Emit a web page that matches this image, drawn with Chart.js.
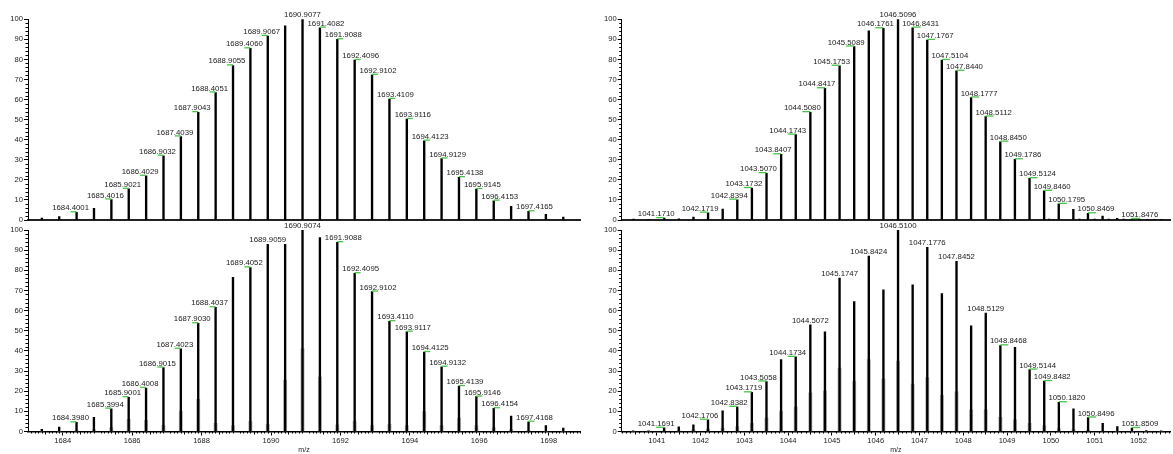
<!DOCTYPE html>
<html>
<head>
<meta charset="utf-8">
<title>Isotope envelopes</title>
<script src="https://cdn.jsdelivr.net/npm/chart.js@4/dist/chart.umd.min.js"></script>
<style>
  html, body { margin: 0; padding: 0; background: #fff; }
  #wrap { position: relative; width: 1173px; height: 454px; overflow: hidden; background: #fff; }
  canvas { position: absolute; }
</style>
</head>
<body>
<div id="wrap">
  <canvas id="tl" width="585" height="226" style="left:0;top:0"></canvas>
  <canvas id="bl" width="585" height="249" style="left:0;top:205px"></canvas>
  <canvas id="tr" width="583" height="226" style="left:590px;top:0"></canvas>
  <canvas id="br" width="583" height="249" style="left:590px;top:205px"></canvas>
</div>
<script>
// ---- shared tick values ----
const intensityTicks = [0, 10, 20, 30, 40, 50, 60, 70, 80, 90, 100];
const leftMzTicks = [1684, 1686, 1688, 1690, 1692, 1694, 1696, 1698];
const rightMzTicks = [1041, 1042, 1043, 1044, 1045, 1046, 1047, 1048, 1049, 1050, 1051, 1052];

// ---- upper left spectrum (z = 2) ----
const tlMz = [1683.3990, 1683.8995, 1684.4001, 1684.9008, 1685.4016, 1685.9021, 1686.4029, 1686.9032,
  1687.4039, 1687.9043, 1688.4051, 1688.9055, 1689.4060, 1689.9067, 1690.4072, 1690.9077, 1691.4082,
  1691.9088, 1692.4096, 1692.9102, 1693.4109, 1693.9116, 1694.4123, 1694.9129, 1695.4138, 1695.9145,
  1696.4153, 1696.9159, 1697.4165, 1697.9171, 1698.4178];
const tlInt = [1.0, 1.7, 3.8, 5.8, 10.2, 15.5, 22.0, 32.0, 41.6, 53.7, 63.5, 77.0, 85.5, 91.7, 96.7, 100,
  95.8, 90.0, 79.7, 72.3, 60.3, 50.3, 39.5, 30.6, 21.3, 15.4, 9.6, 6.8, 4.3, 2.8, 1.5];
const tlFlagged = [1684.4001, 1685.4016, 1685.9021, 1686.4029, 1686.9032, 1687.4039, 1687.9043, 1688.4051,
  1688.9055, 1689.4060, 1689.9067, 1691.4082, 1691.9088, 1692.4096, 1692.9102, 1693.4109, 1693.9116,
  1694.4123, 1694.9129, 1695.4138, 1695.9145, 1696.4153, 1697.4165];
const tlPlain = [1690.9077];

// ---- lower left spectrum (z = 2) ----
const blMz = [1683.3975, 1683.8978, 1684.3980, 1684.8987, 1685.3994, 1685.9001, 1686.4008, 1686.9015,
  1687.4023, 1687.9030, 1688.4037, 1688.9044, 1689.4052, 1689.9059, 1690.4066, 1690.9074, 1691.4081,
  1691.9088, 1692.4095, 1692.9102, 1693.4110, 1693.9117, 1694.4125, 1694.9132, 1695.4139, 1695.9146,
  1696.4154, 1696.9161, 1697.4168, 1697.9175, 1698.4182];
const blInt = [1.1, 2.2, 4.5, 7.0, 11.3, 17.0, 21.6, 31.7, 41.0, 53.7, 61.6, 76.5, 81.4, 92.9, 92.9, 100,
  96.2, 93.9, 78.5, 69.4, 54.7, 49.5, 39.4, 32.1, 22.5, 17.3, 11.5, 7.7, 4.8, 3.0, 1.7];
const blOverlay = [0, 0, 0.5, 1.0, 2.0, 6.0, 5.5, 3.0, 10.0, 16.0, 4.0, 3.0, 5.0, 3.5, 25.5, 41.0,
  27.0, 3.3, 5.0, 3.0, 3.6, 3.0, 9.9, 3.0, 6.6, 3.0, 2.0, 1.0, 0.5, 0, 0];
const blFlagged = [1684.3980, 1685.3994, 1685.9001, 1686.4008, 1686.9015, 1687.4023, 1687.9030, 1688.4037,
  1689.4052, 1691.9088, 1692.4095, 1692.9102, 1693.4110, 1693.9117, 1694.4125, 1694.9132, 1695.4139,
  1695.9146, 1696.4154, 1697.4168];
const blPlain = [1689.9059, 1690.9074];

// ---- upper right spectrum (z = 3) ----
const trMz = [1040.4700, 1040.8100, 1041.1710, 1041.5050, 1041.8390, 1042.1719, 1042.5060, 1042.8394,
  1043.1732, 1043.5070, 1043.8407, 1044.1743, 1044.5080, 1044.8417, 1045.1753, 1045.5089, 1045.8425,
  1046.1761, 1046.5096, 1046.8431, 1047.1767, 1047.5104, 1047.8440, 1048.1777, 1048.5112, 1048.8450,
  1049.1786, 1049.5124, 1049.8460, 1049.9600, 1050.0600, 1050.1795, 1050.5130, 1050.6500, 1050.8469,
  1051.0000, 1051.1805, 1051.3200, 1051.5140, 1051.6600, 1051.8476, 1052.0200, 1052.2000, 1052.3600,
  1052.5200];
const trInt = [0.4, 0.3, 0.9, 0.6, 1.5, 3.6, 5.5, 10.1, 15.9, 23.3, 32.7, 42.5, 53.7, 65.6, 76.8, 86.4,
  94.2, 95.5, 100, 95.8, 89.7, 79.7, 74.3, 61.0, 51.5, 39.0, 30.2, 20.8, 14.5, 0.4, 0.3, 8.0, 5.3, 0.4,
  3.3, 0.5, 2.0, 0.4, 0.8, 0.4, 0.5, 0.4, 0.3, 0.3, 0.2];
const trFlagged = [1041.1710, 1042.1719, 1042.8394, 1043.1732, 1043.5070, 1043.8407, 1044.1743, 1044.5080,
  1044.8417, 1045.1753, 1045.5089, 1046.1761, 1046.8431, 1047.1767, 1047.5104, 1047.8440, 1048.1777,
  1048.5112, 1048.8450, 1049.1786, 1049.5124, 1049.8460, 1050.1795, 1050.8469, 1051.8476];
const trPlain = [1046.5096];

// ---- lower right spectrum (z = 3) ----
const brMz = [1040.4600, 1040.8100, 1041.1691, 1041.5030, 1041.8368, 1042.1706, 1042.5044, 1042.8382,
  1043.1719, 1043.5058, 1043.8396, 1044.1734, 1044.5072, 1044.8410, 1045.1747, 1045.5086, 1045.8424,
  1046.1762, 1046.5100, 1046.8438, 1047.1776, 1047.5114, 1047.8452, 1048.1790, 1048.5129, 1048.8468,
  1049.1806, 1049.5144, 1049.8482, 1050.1820, 1050.5158, 1050.8496, 1051.1834, 1051.5172, 1051.8509,
  1052.1800, 1052.5200];
const brInt = [0.3, 0.3, 1.8, 2.3, 3.3, 5.8, 10.2, 12.2, 19.4, 24.8, 35.7, 37.0, 53.0, 49.5, 76.2, 64.5,
  87.0, 70.3, 100, 72.8, 91.4, 68.4, 84.5, 52.5, 58.8, 42.7, 41.8, 30.7, 25.0, 14.5, 11.3, 6.9, 4.1, 2.5,
  1.7, 0.5, 0.3];
const brOverlay = [0, 0, 0.3, 0.5, 1.0, 1.2, 1.6, 2.5, 4.0, 6.6, 10.0, 12.2, 19.2, 20.0, 31.5, 25.0,
  35.7, 26.0, 35.0, 23.5, 26.8, 17.9, 19.8, 10.7, 10.7, 7.0, 5.8, 4.1, 2.8, 1.5, 1.0, 0.6, 0.3, 0, 0, 0, 0];
const brFlagged = [1041.1691, 1042.1706, 1042.8382, 1043.1719, 1043.5058, 1044.1734, 1048.8468, 1049.5144,
  1049.8482, 1050.1820, 1050.8496, 1051.8509];
const brPlain = [1044.5072, 1045.1747, 1045.8424, 1046.5100, 1047.1776, 1047.8452, 1048.5129];

// ---- drawing helpers ----
Chart.defaults.font.family = "'Liberation Sans', Arial, sans-serif";
const TEXT = '#222';
const FLAG_GREEN = '#46c446';

// m/z labels above peaks; flagged peaks get a short green centroid tick
// and their label is nudged away from the base peak.
function peakLabels(mz, inten, flagged, plain, nudge) {
  return {
    id: 'peakLabels',
    afterDatasetsDraw(chart) {
      const { ctx } = chart;
      const xs = chart.scales.x, ys = chart.scales.y;
      let baseIdx = 0;
      inten.forEach((v, i) => { if (v > inten[baseIdx]) baseIdx = i; });
      const baseMz = mz[baseIdx];
      ctx.save();
      ctx.font = "7.8px 'Liberation Sans', Arial, sans-serif";
      ctx.textAlign = 'center';
      ctx.textBaseline = 'alphabetic';
      const draw = (m, isFlagged) => {
        const i = mz.indexOf(m);
        if (i < 0) return;
        const px = xs.getPixelForValue(m);
        const py = ys.getPixelForValue(inten[i]);
        let cx = px;
        if (isFlagged) {
          const dir = m < baseMz ? -1 : 1;
          cx = px + dir * nudge;
          ctx.strokeStyle = FLAG_GREEN;
          ctx.lineWidth = 1.3;
          ctx.beginPath();
          ctx.moveTo(px, py - 0.6);
          ctx.lineTo(cx, py - 0.6);
          ctx.stroke();
        }
        ctx.fillStyle = TEXT;
        ctx.fillText(m.toFixed(4), cx, py - 2);
      };
      flagged.forEach(m => draw(m, true));
      plain.forEach(m => draw(m, false));
      ctx.restore();
    }
  };
}

// small intermediate ticks on the intensity axis and (optionally) the m/z axis
function minorTicks(withX) {
  return {
    id: 'minorTicks',
    afterDraw(chart) {
      const { ctx } = chart;
      const xs = chart.scales.x, ys = chart.scales.y;
      ctx.save();
      ctx.strokeStyle = '#000';
      ctx.lineWidth = 1;
      ctx.beginPath();
      for (let v = 2; v < 100; v += 2) {
        if (v % 10 === 0) continue;
        const y = Math.round(ys.getPixelForValue(v)) + 0.5;
        ctx.moveTo(ys.right - 2.5, y);
        ctx.lineTo(ys.right, y);
      }
      if (withX) {
        const i0 = Math.ceil(xs.min * 10), i1 = Math.floor(xs.max * 10);
        for (let i = i0; i <= i1; i++) {
          if (i % 10 === 0) continue;
          const v = i / 10;
          const x = Math.round(xs.getPixelForValue(v)) + 0.5;
          const len = (i % 5 === 0) ? 3 : 2;
          ctx.moveTo(x, xs.top);
          ctx.lineTo(x, xs.top + len);
        }
      }
      ctx.stroke();
      ctx.restore();
    }
  };
}

function makePanel(id, p) {
  const datasets = [{
    data: p.mz.map((m, i) => ({ x: m, y: p.inten[i] })),
    backgroundColor: '#000',
    barThickness: 1.7,
    grouped: false,
    order: 0
  }];
  if (p.overlay) {
    datasets.push({
      data: p.mz.map((m, i) => ({ x: m, y: p.overlay[i] })),
      backgroundColor: '#ababab',
      barThickness: 3.2,
      grouped: false,
      order: 1
    });
  }
  const xAxis = p.xTicks ? {
    type: 'linear', min: p.min, max: p.max, offset: false,
    afterBuildTicks: s => { s.ticks = p.xTicks.map(v => ({ value: v })); },
    afterFit: s => { s.height = 22.5; },
    grid: { drawOnChartArea: false, drawTicks: true, tickLength: 4, color: '#000', offset: false },
    border: { display: true, color: '#000', width: 1.5 },
    ticks: { font: { size: 7.6 }, color: TEXT, padding: 1, maxRotation: 0, autoSkip: false,
             callback: v => String(v) },
    title: { display: true, text: 'm/z', font: { size: 7 }, color: TEXT, padding: 0 }
  } : {
    type: 'linear', min: p.min, max: p.max, offset: false,
    afterFit: s => { s.height = 0; },
    grid: { display: false, offset: false },
    border: { display: true, color: '#222', width: 2 },
    ticks: { display: false }
  };
  return new Chart(document.getElementById(id), {
    type: 'bar',
    data: { datasets },
    options: {
      responsive: false,
      animation: false,
      events: [],
      layout: { padding: p.padding },
      scales: {
        x: xAxis,
        y: {
          min: 0, max: 100,
          afterBuildTicks: s => { s.ticks = intensityTicks.map(v => ({ value: v })); },
          afterFit: s => { s.width = p.yWidth; },
          grid: { drawOnChartArea: false, drawTicks: true, tickLength: 4, color: '#000' },
          border: { display: true, color: '#000', width: 1 },
          ticks: { font: { size: 7.6 }, color: TEXT, padding: 1, autoSkip: false }
        }
      },
      plugins: { legend: { display: false }, tooltip: { enabled: false } }
    },
    plugins: [peakLabels(p.mz, p.inten, p.flagged, p.plain, p.nudge), minorTicks(!!p.xTicks)]
  });
}

makePanel('tl', { mz: tlMz, inten: tlInt, flagged: tlFlagged, plain: tlPlain, nudge: 6,
  min: 1683.0, max: 1698.9, yWidth: 28, padding: { left: 0, right: 5, top: 19.3, bottom: 6 } });
makePanel('bl', { mz: blMz, inten: blInt, overlay: blOverlay, flagged: blFlagged, plain: blPlain, nudge: 6,
  min: 1683.0, max: 1698.9, xTicks: leftMzTicks, yWidth: 28, padding: { left: 0, right: 5, top: 25, bottom: 0 } });
makePanel('tr', { mz: trMz, inten: trInt, flagged: trFlagged, plain: trPlain, nudge: 8,
  min: 1040.2, max: 1052.72, yWidth: 31.7, padding: { left: 0, right: 3, top: 19.3, bottom: 6 } });
makePanel('br', { mz: brMz, inten: brInt, overlay: brOverlay, flagged: brFlagged, plain: brPlain, nudge: 8,
  min: 1040.2, max: 1052.72, xTicks: rightMzTicks, yWidth: 31.7, padding: { left: 0, right: 3, top: 25, bottom: 0 } });
</script>
</body>
</html>
